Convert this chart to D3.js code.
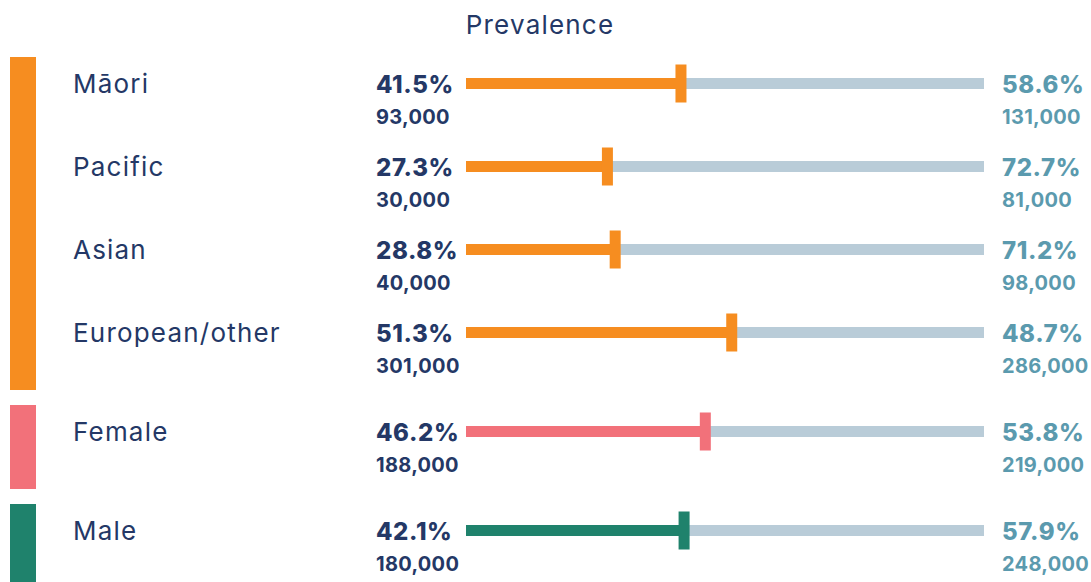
<!DOCTYPE html>
<html>
<head>
<meta charset="utf-8">
<script src="https://cdn.jsdelivr.net/npm/d3@7"></script>
<style>
  html, body { margin: 0; padding: 0; background: #ffffff; }
  svg { display: block; }
  text { font-family: "Inter", "Open Sans", sans-serif; }
</style>
</head>
<body>
<svg id="chart" width="1091" height="582"></svg>
<script>
const categories = ["Māori", "Pacific", "Asian", "European/other", "Female", "Male"];
const groups = ["Ethnicity", "Ethnicity", "Ethnicity", "Ethnicity", "Female", "Male"];
const prevalence = [41.5, 27.3, 28.8, 51.3, 46.2, 42.1];
const prevalenceCounts = [93000, 30000, 40000, 301000, 188000, 180000];
const remainder = [58.6, 72.7, 71.2, 48.7, 53.8, 57.9];
const remainderCounts = [131000, 81000, 98000, 286000, 219000, 248000];
const groupNames = ["Ethnicity", "Female", "Male"];
const groupColors = ["#F68D20", "#F2717A", "#1F826C"];

const svg = d3.select("#chart");
const navy = "#243866";
const teal = "#5B9AAE";
const grey = "#B9CCD8";

const x = d3.scaleLinear().domain([0, 100]).range([466, 984]);
const rowScale = d3.scaleLinear().domain([0, categories.length - 1]).range([83.5, 83.5 + 5 * 83]);
const groupIndex = d3.scaleOrdinal().domain(groupNames).range([0, 1, 2]);
const color = d3.scaleOrdinal().domain(groupNames).range(groupColors);
const yOf = i => rowScale(i) + 16 * groupIndex(groups[i]);

const rows = categories.map((c, i) => ({
  cat: c, group: groups[i], p: prevalence[i], pc: prevalenceCounts[i],
  r: remainder[i], rc: remainderCounts[i], y: yOf(i)
}));

const fmtPct = v => d3.format(".1f")(v) + "%";
const fmtNum = d3.format(",");

// title
svg.append("text").attr("x", 540).attr("y", 34).attr("text-anchor", "middle")
  .attr("font-size", 26).attr("letter-spacing", 1.2).attr("fill", navy).text("Prevalence");

// group colour bars
groupNames.forEach(g => {
  const ys = rows.filter(r => r.group === g).map(r => r.y);
  const top = d3.min(ys) - 26.5, bot = d3.max(ys) + 57.5;
  svg.append("rect").attr("x", 10).attr("width", 26).attr("y", top).attr("height", bot - top)
    .attr("fill", color(g));
});

const row = svg.selectAll("g.row").data(rows).join("g").attr("class", "row")
  .attr("transform", d => `translate(0,${d.y})`);

row.append("text").attr("x", 73).attr("y", 9.5).attr("font-size", 26).attr("letter-spacing", 1.2)
  .attr("fill", navy).text(d => d.cat);

row.append("rect").attr("x", x(0)).attr("width", x(100) - x(0)).attr("y", -5.5).attr("height", 11)
  .attr("fill", grey);
row.append("rect").attr("x", x(0)).attr("width", d => x(d.p) - x(0)).attr("y", -5.5).attr("height", 11)
  .attr("fill", d => color(d.group));
row.append("rect").attr("x", d => x(d.p) - 5.5).attr("width", 11).attr("y", -19).attr("height", 38)
  .attr("fill", d => color(d.group));

row.append("text").attr("x", 376).attr("y", 9).attr("font-size", 24).attr("font-weight", 800)
  .attr("letter-spacing", 0.6).attr("fill", navy).text(d => fmtPct(d.p));
row.append("text").attr("x", 376).attr("y", 40).attr("font-size", 20).attr("font-weight", 700)
  .attr("letter-spacing", 0.3).attr("fill", navy).text(d => fmtNum(d.pc));

row.append("text").attr("x", 1002).attr("y", 9).attr("font-size", 24).attr("font-weight", 800)
  .attr("letter-spacing", 0.6).attr("fill", teal).text(d => fmtPct(d.r));
row.append("text").attr("x", 1002).attr("y", 40).attr("font-size", 20).attr("font-weight", 700)
  .attr("letter-spacing", 0.3).attr("fill", teal).text(d => fmtNum(d.rc));
</script>
</body>
</html>
